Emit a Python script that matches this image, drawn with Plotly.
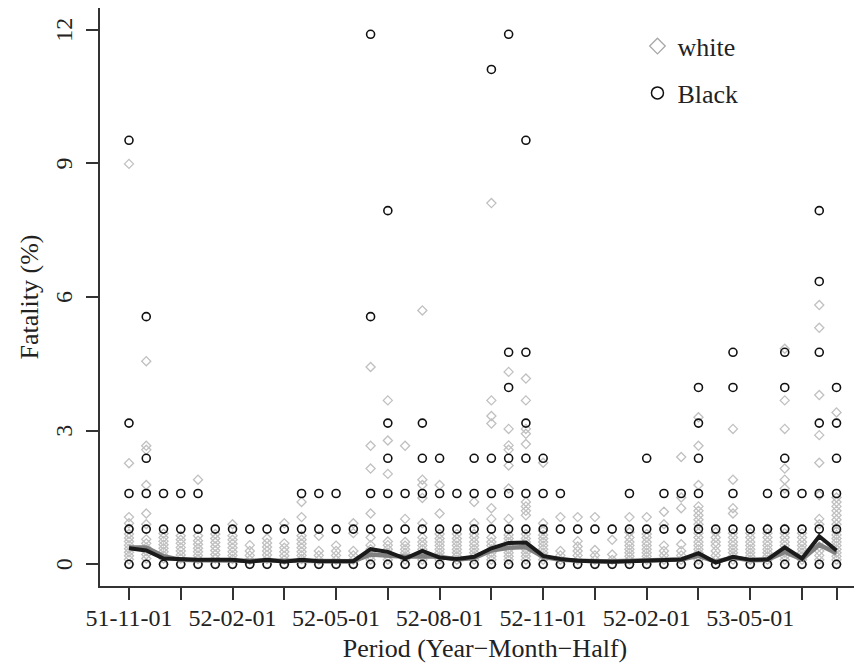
import plotly.graph_objects as go

periods = ["51-11-01","51-11-02","51-12-01","51-12-02","52-01-01","52-01-02",
           "52-02-01","52-02-02","52-03-01","52-03-02","52-04-01","52-04-02",
           "52-05-01","52-05-02","52-06-01","52-06-02","52-07-01","52-07-02",
           "52-08-01","52-08-02","52-09-01","52-09-02","52-10-01","52-10-02",
           "52-11-01","52-11-02","52-12-01","52-12-02","53-01-01","53-01-02",
           "53-02-01","53-02-02","53-03-01","53-03-02","53-04-01","53-04-02",
           "53-05-01","53-05-02","53-06-01","53-06-02","53-07-01","53-07-02"]

white_vals = [
    [0, 0.11, 0.19, 0.27, 0.35, 0.43, 0.51, 0.59, 0.68, 0.8, 0.92, 1.06, 2.27, 8.99],
    [0, 0.13, 0.22, 0.3, 0.38, 0.47, 0.56, 0.9, 1.14, 1.78, 2.57, 2.66, 4.56],
    [0, 0.13, 0.2, 0.28, 0.36, 0.44, 0.52, 0.6, 0.69],
    [0, 0.13, 0.21, 0.3, 0.38, 0.47, 0.55, 0.64],
    [0, 0.12, 0.2, 0.28, 0.36, 0.45, 0.53, 0.64, 1.9],
    [0, 0.13, 0.22, 0.31, 0.4, 0.49, 0.58, 0.68],
    [0, 0.12, 0.2, 0.28, 0.37, 0.46, 0.55, 0.64, 0.9],
    [0, 0.1, 0.2, 0.3, 0.43],
    [0, 0.12, 0.21, 0.3, 0.39, 0.48, 0.58],
    [0, 0.1, 0.19, 0.28, 0.37, 0.47, 0.92],
    [0, 0.12, 0.2, 0.28, 0.37, 0.46, 0.55, 0.64, 1.06, 1.4],
    [0, 0.1, 0.2, 0.3, 0.64],
    [0, 0.1, 0.2, 0.3, 0.42],
    [0, 0.1, 0.2, 0.3, 0.7, 0.92],
    [0, 0.1, 0.18, 0.26, 0.34, 0.43, 0.6, 1.14, 2.15, 2.66, 4.43],
    [0, 0.1, 0.18, 0.26, 0.34, 0.43, 0.51, 2.03, 2.78, 3.68],
    [0, 0.1, 0.18, 0.26, 0.34, 0.42, 0.5, 1.02, 2.66],
    [0, 0.1, 0.18, 0.26, 0.34, 0.42, 0.5, 0.6, 0.92, 1.49, 1.78, 1.9, 5.7],
    [0, 0.1, 0.18, 0.26, 0.34, 0.42, 0.5, 0.58, 0.68, 1.14, 1.78],
    [0, 0.1, 0.18, 0.26, 0.34, 0.42, 0.5, 0.58, 0.68],
    [0, 0.1, 0.18, 0.26, 0.34, 0.42, 0.5, 0.6, 0.68, 0.92, 1.4],
    [0, 0.1, 0.18, 0.26, 0.34, 0.42, 0.5, 0.6, 1.02, 1.26, 3.16, 3.33, 3.68, 8.11],
    [0, 0.1, 0.18, 0.26, 0.34, 0.42, 0.5, 0.58, 0.66, 1.02, 1.7, 2.22, 2.57, 2.67, 3.04, 4.32],
    [0, 0.1, 0.18, 0.26, 0.34, 0.42, 0.5, 0.58, 0.68, 1.1, 1.2, 1.3, 1.4, 2.7, 2.93, 3.04, 3.68, 4.17],
    [0, 0.1, 0.18, 0.26, 0.34, 0.42, 0.5, 0.58, 0.66, 0.75, 0.92, 2.28],
    [0, 0.1, 0.2, 0.3, 1.06],
    [0, 0.1, 0.2, 0.3, 0.4, 0.52, 1.06],
    [0, 0.1, 0.2, 0.32, 1.06],
    [0, 0.1, 0.22, 0.55],
    [0, 0.1, 0.18, 0.26, 0.34, 0.42, 0.5, 0.6, 0.72, 1.06],
    [0, 0.1, 0.18, 0.26, 0.34, 0.42, 0.5, 0.6, 0.68, 1.06],
    [0, 0.1, 0.2, 0.3, 0.42, 0.9, 1.18],
    [0, 0.1, 0.2, 0.3, 0.45, 0.8, 1.26, 1.5, 2.41],
    [0, 0.1, 0.18, 0.26, 0.34, 0.42, 0.5, 0.6, 0.7, 0.9, 1.0, 1.1, 1.2, 1.3, 1.78, 2.66, 3.3],
    [0, 0.1, 0.2, 0.3, 0.42, 0.5, 0.6, 0.72],
    [0, 0.1, 0.18, 0.26, 0.34, 0.42, 0.5, 0.6, 0.7, 1.14, 1.26, 1.9, 3.04],
    [0, 0.1, 0.18, 0.26, 0.34, 0.42, 0.5, 0.6, 0.7],
    [0, 0.1, 0.18, 0.26, 0.34, 0.42, 0.5, 0.6, 0.7, 0.8],
    [0, 0.1, 0.18, 0.26, 0.34, 0.42, 0.5, 0.6, 0.7, 0.8, 1.7, 1.9, 2.15, 3.04, 3.68, 4.84],
    [0, 0.1, 0.18, 0.26, 0.34, 0.42, 0.5, 0.6, 0.7],
    [0, 0.1, 0.2, 0.3, 0.4, 0.5, 0.9, 1.02, 1.55, 2.28, 2.9, 3.8, 5.31, 5.82],
    [0, 0.1, 0.18, 0.26, 0.34, 0.42, 0.5, 0.58, 0.66, 0.74, 0.9, 1.0, 1.1, 1.2, 1.3, 1.4, 1.5, 3.41],
]

black_vals = [
    [0, 0.79, 1.59, 3.17, 9.52],
    [0, 0.79, 1.59, 2.38, 5.56],
    [0, 0.79, 1.59],
    [0, 0.79, 1.59],
    [0, 0.79, 1.59],
    [0, 0.79],
    [0, 0.79],
    [0, 0.79],
    [0, 0.79],
    [0, 0.79],
    [0, 0.79, 1.59],
    [0, 0.79, 1.59],
    [0, 0.79, 1.59],
    [0, 0.79],
    [0, 0.79, 1.59, 5.56, 11.9],
    [0, 0.79, 1.59, 2.38, 3.17, 7.94],
    [0, 0.79, 1.59],
    [0, 0.79, 1.59, 2.38, 3.17],
    [0, 0.79, 1.59, 2.38],
    [0, 0.79, 1.59],
    [0, 0.79, 1.59, 2.38],
    [0, 0.79, 1.59, 2.38, 11.11],
    [0, 0.79, 1.59, 2.38, 3.97, 4.76, 11.9],
    [0, 0.79, 1.59, 2.38, 3.17, 4.76, 9.52],
    [0, 0.79, 1.59, 2.38],
    [0, 0.79, 1.59],
    [0, 0.79],
    [0, 0.79],
    [0, 0.79],
    [0, 0.79, 1.59],
    [0, 0.79, 2.38],
    [0, 0.79, 1.59],
    [0, 0.79, 1.59],
    [0, 0.79, 1.59, 2.38, 3.17, 3.97],
    [0, 0.79],
    [0, 0.79, 1.59, 3.97, 4.76],
    [0, 0.79],
    [0, 0.79, 1.59],
    [0, 0.79, 1.59, 2.38, 3.97, 4.76],
    [0, 0.79, 1.59],
    [0, 0.79, 1.59, 3.17, 4.76, 6.35, 7.94],
    [0, 0.79, 1.59, 2.38, 3.17, 3.97],
]

white_mean = [0.38, 0.38, 0.18, 0.10, 0.09, 0.09, 0.09, 0.07, 0.08, 0.07, 0.09, 0.07,
              0.07, 0.07, 0.22, 0.20, 0.17, 0.18, 0.17, 0.11, 0.14, 0.31, 0.37, 0.39,
              0.17, 0.10, 0.08, 0.07, 0.07, 0.08, 0.09, 0.10, 0.11, 0.19, 0.06, 0.15,
              0.09, 0.10, 0.28, 0.11, 0.44, 0.25]
black_mean = [0.36, 0.31, 0.13, 0.11, 0.10, 0.10, 0.10, 0.06, 0.10, 0.06, 0.10, 0.07,
              0.07, 0.07, 0.34, 0.28, 0.13, 0.30, 0.15, 0.12, 0.17, 0.36, 0.48, 0.49,
              0.19, 0.12, 0.08, 0.06, 0.06, 0.07, 0.09, 0.10, 0.11, 0.25, 0.04, 0.17,
              0.10, 0.11, 0.38, 0.13, 0.63, 0.31]

tick_idx = [0, 3, 6, 9, 12, 15, 18, 21, 24, 27, 30, 33, 36, 39, 41]
tick_text = ["51-11-01", "", "52-02-01", "", "52-05-01", "", "52-08-01", "",
             "52-11-01", "", "52-02-01", "", "53-05-01", "", ""]
y_ticks = [0, 3, 6, 9, 12]
y_tick_text = ["0", "3", "6", "9", "12"]

FONT = "Liberation Serif"
INK = "#222222"

idx = list(range(len(periods)))

wx, wy = [], []
for i, vals in enumerate(white_vals):
    for v in vals:
        wx.append(i); wy.append(v)
bx, by = [], []
for i, vals in enumerate(black_vals):
    for v in vals:
        bx.append(i); by.append(v)

fig = go.Figure()
fig.add_trace(go.Scatter(x=wx, y=wy, mode="markers", showlegend=False,
                         marker=dict(symbol="diamond-open", size=7, color="#c0c0c0",
                                     line=dict(width=1.3, color="#c0c0c0"))))
fig.add_trace(go.Scatter(x=bx, y=by, mode="markers", showlegend=False,
                         marker=dict(symbol="circle-open", size=8, color="#111111",
                                     line=dict(width=1.6, color="#111111"))))
fig.add_trace(go.Scatter(x=idx, y=white_mean, mode="lines", showlegend=False,
                         line=dict(color="#808080", width=4.5)))
fig.add_trace(go.Scatter(x=idx, y=black_mean, mode="lines", showlegend=False,
                         line=dict(color="#1a1a1a", width=4)))
# legend entries
fig.add_trace(go.Scatter(x=[None], y=[None], mode="markers", name="white", legendgroup="w",
                         marker=dict(symbol="diamond-open", size=12, color="#a8a8a8",
                                     line=dict(width=1.3, color="#a8a8a8"))))
fig.add_trace(go.Scatter(x=[None], y=[None], mode="markers", name="Black", legendgroup="b",
                         marker=dict(symbol="circle-open", size=12, color="#111111",
                                     line=dict(width=1.5, color="#111111"))))

# y tick labels, rotated as in the reference, placed beside the axis
for v, t in zip(y_ticks, y_tick_text):
    fig.add_annotation(x=0, xref="paper", xanchor="center", xshift=-36, y=v, yref="y",
                       text=t, showarrow=False, textangle=-90,
                       font=dict(family=FONT, size=24, color=INK))

fig.update_layout(
    width=862, height=668,
    margin=dict(l=92, r=0, t=0, b=90, autoexpand=False),
    paper_bgcolor="white", plot_bgcolor="white",
    font=dict(family=FONT, color=INK),
    legend=dict(x=0.698, y=0.9746, xanchor="left", yanchor="top",
                font=dict(family=FONT, size=26, color=INK),
                bgcolor="rgba(0,0,0,0)", tracegroupgap=10),
    xaxis=dict(range=[-1.68, 42.94], tickmode="array", tickvals=tick_idx, ticktext=tick_text,
               automargin=False, ticklabelstandoff=-3,
               showgrid=False, zeroline=False, showline=True, linecolor="#333333",
               linewidth=2, mirror=True, ticks="outside", ticklen=12, tickwidth=1.5,
               tickcolor="#333333", tickfont=dict(family=FONT, size=24, color=INK),
               title=dict(text="Period (Year\u2212Month\u2212Half)",
                          font=dict(family=FONT, size=26, color=INK), standoff=9)),
    yaxis=dict(range=[-0.487, 12.49], tickmode="array", tickvals=y_ticks,
               ticktext=["", "", "", "", ""], automargin=False,
               showgrid=False, zeroline=False, showline=True, linecolor="#333333",
               linewidth=2, ticks="outside", ticklen=12, tickwidth=1.5,
               tickcolor="#333333",
               title=dict(text="Fatality (%)", font=dict(family=FONT, size=26, color=INK),
                          standoff=38)),
)

fig.write_html("out.html")
